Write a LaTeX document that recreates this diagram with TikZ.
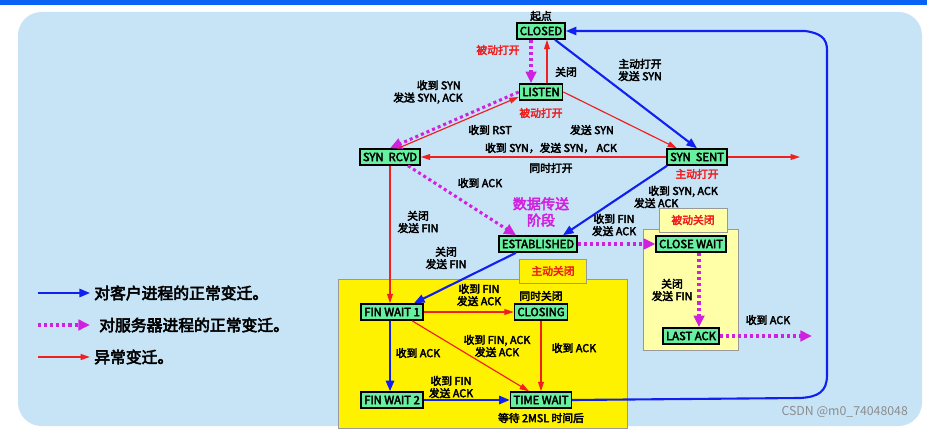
\documentclass[tikz,border=0pt]{standalone}
\usepackage{fontspec}
\setmainfont{Noto Sans CJK SC}[AutoFakeBold=3.5]
\usetikzlibrary{arrows.meta}
\definecolor{panel}{HTML}{C7E4F7}
\definecolor{ngreen}{HTML}{66F0A0}
\definecolor{myblue}{HTML}{1020F0}
\definecolor{myred}{HTML}{F02020}
\definecolor{mymag}{HTML}{D020E0}
\definecolor{yel}{HTML}{FFF200}
\definecolor{lyel}{HTML}{FFFFA8}
\tikzset{
 st/.style={draw=black,line width=1.3pt,fill=ngreen,inner xsep=2.5pt,inner ysep=1.5pt,minimum height=16*0.03cm,font=\fontsize{9.6}{10}\selectfont\bfseries},
 lb/.style={font=\fontsize{9.2}{10.5}\selectfont\bfseries,align=center,inner sep=0.5pt},
 rl/.style={lb,text=myred},
 bl/.style={draw=myblue,line width=1.8pt,-{Triangle[length=9pt,width=7pt]}},
 rd/.style={draw=myred,line width=1pt,-{Triangle[length=8pt,width=5pt]}},
 mg/.style={draw=mymag,line width=2.6pt,dash pattern=on 2.6pt off 2.6pt,-{Triangle[length=10pt,width=9pt]}},
}
\begin{document}
\begin{tikzpicture}[x=0.03cm,y=-0.03cm]
\useasboundingbox (0,0) rectangle (927,430);
\fill[white] (0,0) rectangle (927,430);
\fill[myblue!70!cyan] (0,0) rectangle (927,5);
\fill[panel,rounded corners=20pt] (18,12) rectangle (922,426);
% boxes
\fill[yel,draw=black!40] (338,279) rectangle (627,428);
\node[fill=yel,draw=black!40,minimum width=67*0.03cm,minimum height=24*0.03cm,rl] (ak) at (553,271) {主动关闭};
\fill[lyel,draw=black!40] (643,229) rectangle (738,350);
\node[fill=lyel,draw=black!40,minimum width=68*0.03cm,minimum height=24*0.03cm,rl] (pk) at (693,220) {被动关闭};
% states
\node[st] (closed) at (541,31) {CLOSED};
\node[st] (listen) at (541,92) {LISTEN};
\node[st] (rcvd) at (390,157) {SYN\ \ RCVD};
\node[st] (sent) at (697,157) {SYN\ \ SENT};
\node[st] (est) at (538,244) {ESTABLISHED};
\node[st] (cw) at (691,244) {CLOSE WAIT};
\node[st] (fw1) at (392,312) {FIN WAIT 1};
\node[st] (cl) at (541,312) {CLOSING};
\node[st] (fw2) at (392,400) {FIN WAIT 2};
\node[st] (tw) at (541,400) {TIME WAIT};
\node[st] (la) at (691,336) {LAST ACK};
\coordinate (o1) at (800,157);
\coordinate (o2) at (812,336);
% edges
\draw[mg] ([xshift=-10*0.03cm]closed.south) -- ([xshift=-10*0.03cm]listen.north);
\draw[rd] ([xshift=6*0.03cm]listen.north) -- ([xshift=6*0.03cm]closed.south);
\draw[bl] ([xshift=14*0.03cm]closed.south) -- (sent.north);
\draw[rd] (listen.east) -- ([xshift=-20*0.03cm]sent.north);
\draw[mg] (listen.west) -- (rcvd.north);
\draw[rd] ([xshift=8*0.03cm]rcvd.north) -- ([yshift=-5*0.03cm]listen.west);
\draw[rd] (sent.west) -- (rcvd.east);
\draw[rd] (sent.east) -- (o1);
\draw[mg] ([xshift=18*0.03cm]rcvd.south) -- ([xshift=-22*0.03cm]est.north);
\draw[bl] ([xshift=-30*0.03cm]sent.south) -- ([xshift=25*0.03cm]est.north);
\draw[rd] (rcvd.south) -- (rcvd.south |- fw1.north);
\draw[bl] ([xshift=-22*0.03cm]est.south) -- ([xshift=22*0.03cm]fw1.north);
\draw[mg] (est.east) -- (cw.west);
\draw[mg] ([xshift=8*0.03cm]cw.south) -- ([xshift=8*0.03cm]la.north);
\draw[mg] (la.east) -- (o2);
\draw[rd] (fw1.east) -- (cl.west);
\draw[rd] ([xshift=20*0.03cm]fw1.south) -- ([xshift=-12*0.03cm]tw.north);
\draw[rd] (cl.south) -- (tw.north);
\draw[bl] (fw1.south -| rcvd.south) -- (fw2.north -| rcvd.south);
\draw[bl] (fw2.east) -- (tw.west);
\draw[bl] (tw.east) -- (800,398) .. controls (818,397) and (827,392) .. (827,375)
 -- (827,50) .. controls (827,38) and (820,33) .. (805,31) -- (closed.east);
% labels
\node[lb] at (541,16) {起点};
\node[rl] at (498,50) {被动打开};
\node[lb] at (566,72) {关闭};
\node[lb] at (640,70) {主动打开\\ 发送 SYN};
\node[lb] at (428,92) {\hspace*{2em}收到 SYN\\ 发送 SYN, ACK};
\node[rl] at (541,113) {被动打开};
\node[lb] at (490,130) {收到 RST};
\node[lb] at (592,130) {发送 SYN};
\node[lb] at (551,148) {收到 SYN，发送 SYN，\ ACK};
\node[lb] at (551,168) {同时打开};
\node[rl] at (697,174) {主动打开};
\node[lb] at (675,197) {\hspace*{1.5em}收到 SYN, ACK\\ 发送 ACK\hspace*{3.5em}};
\node[lb] at (480,183) {收到 ACK};
\node[lb,text=mymag,font=\fontsize{12}{14}\selectfont\bfseries] at (541,212) {数据传送\\ 阶段};
\node[lb] at (614,225) {收到 FIN\\ 发送 ACK};
\node[lb] at (418,222) {关闭\\ 发送 FIN};
\node[lb] at (446,258) {关闭\\ 发送 FIN};
\node[lb] at (479,295) {收到 FIN\\ 发送 ACK};
\node[lb] at (541,296) {同时关闭};
\node[lb] at (672,290) {关闭\\ 发送 FIN};
\node[lb] at (768,320) {收到 ACK};
\node[lb] at (418,353) {收到 ACK};
\node[lb] at (497,346) {收到 FIN, ACK\\ 发送 ACK};
\node[lb] at (574,348) {收到 ACK};
\node[lb] at (451,387) {收到 FIN\\ 发送 ACK};
\node[lb] at (541,418) {等待 2MSL 时间后};
\node[text=black!45,font=\fontsize{10.5}{12}\selectfont,anchor=east] at (912,412) {CSDN @m0\_74048048};
% legend
\coordinate (l1a) at (38,293); \coordinate (l1b) at (90,293);
\coordinate (l2a) at (38,325); \coordinate (l2b) at (90,325);
\coordinate (l3a) at (38,357); \coordinate (l3b) at (90,357);
\draw[bl] (l1a) -- (l1b);
\draw[mg] (l2a) -- (l2b);
\draw[rd,line width=1.4pt] (l3a) -- (l3b);
\tikzset{lg/.style={anchor=west,font=\fontsize{13.5}{15}\selectfont\bfseries,inner sep=0pt}}
\node[lg] at (94,293) {对客户进程的正常变迁。};
\node[lg] at (99,325) {对服务器进程的正常变迁。};
\node[lg] at (94,357) {异常变迁。};
\end{tikzpicture}
\end{document}
